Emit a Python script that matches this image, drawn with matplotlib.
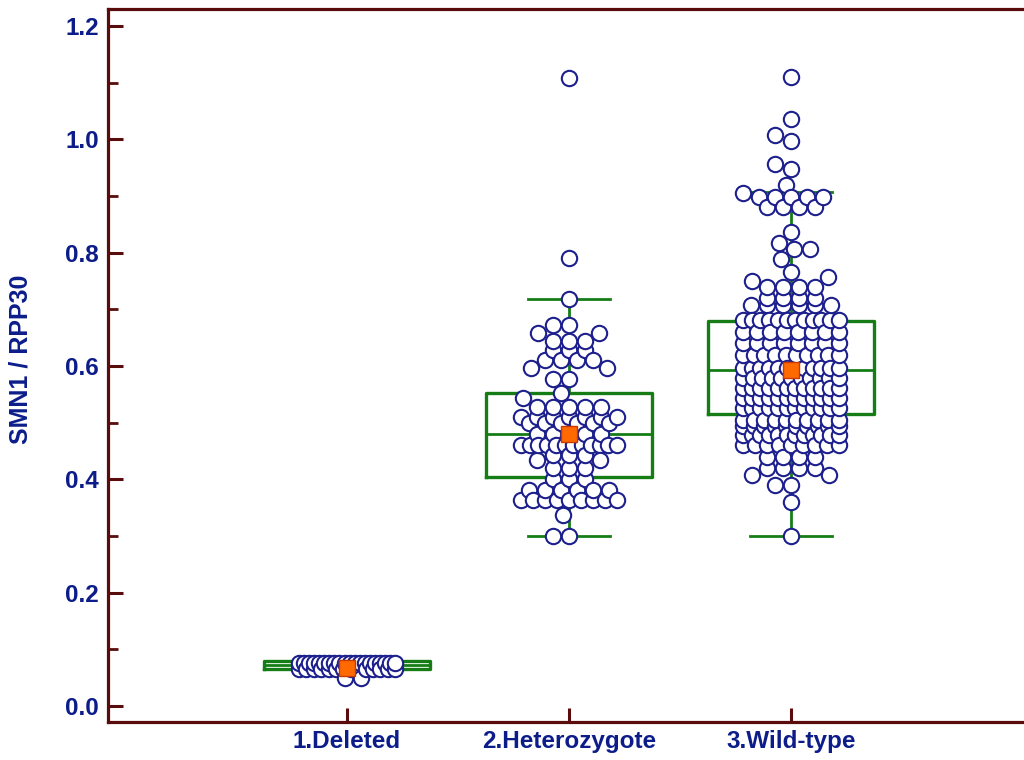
import numpy as np
import matplotlib.pyplot as plt
from matplotlib.ticker import MultipleLocator, FormatStrFormatter

plt.rcParams['font.family'] = ['Liberation Sans', 'DejaVu Sans']

# groups and x positions
groups = ['1.Deleted', '2.Heterozygote', '3.Wild-type']
positions = [1, 2, 3]

del_vals = [0.050, 0.066, 0.076]
del_counts = [2, 14, 20]

het_vals = [0.300, 0.337, 0.363, 0.382, 0.400, 0.420, 0.434, 0.443, 0.460,
            0.480, 0.500, 0.510, 0.528, 0.543, 0.552, 0.578, 0.596, 0.610,
            0.628, 0.645, 0.658, 0.672, 0.718, 0.790, 1.108]
het_counts = [2, 1, 9, 6, 3, 3, 2, 3, 12,
              5, 6, 7, 5, 1, 1, 2, 2, 4,
              3, 3, 2, 2, 1, 1, 1]

wt_vals = [0.300, 0.360, 0.390, 0.408, 0.420, 0.440, 0.460, 0.478, 0.494,
           0.505, 0.526, 0.543, 0.561, 0.579, 0.596, 0.620, 0.640, 0.660,
           0.681, 0.708, 0.720, 0.740, 0.750, 0.757, 0.766, 0.789, 0.806,
           0.817, 0.836, 0.880, 0.898, 0.905, 0.919, 0.948, 0.956, 0.998,
           1.007, 1.036, 1.110]
wt_counts = [1, 1, 2, 2, 4, 4, 9, 12, 10,
             10, 12, 12, 12, 11, 12, 10, 8, 8,
             12, 6, 4, 4, 1, 1, 1, 1, 2,
             1, 1, 4, 5, 1, 1, 1, 1, 1,
             1, 1, 1]

# box plot summary
q1s = [0.066, 0.405, 0.515]
medians = [0.073, 0.480, 0.593]
q3s = [0.080, 0.552, 0.680]
whis_lo = [0.066, 0.300, 0.300]
whis_hi = [0.080, 0.718, 0.908]
means = [0.068, 0.480, 0.593]

navy = '#1c1f8c'
green = '#167d16'
maroon = '#5a0c0c'
label_blue = '#0c1d8a'


def dot_layout(vals, counts, ppx, ppy, d=16.0, half=48.0):
    # rows of 3+ equal values are centred and squeezed to the max width,
    # the remaining dots are slotted in where they overlap least
    xs, ys = [], []
    loose = []
    for v, c in zip(vals, counts):
        if c >= 3:
            step = min(d, 2 * half / (c - 1))
            for k in range(c):
                xs.append((k - (c - 1) / 2) * step)
                ys.append(v * ppy)
        else:
            loose += [v] * c
    grid = np.arange(-half, half + 0.25, 0.5)
    grid = grid[np.argsort(np.abs(grid), kind='stable')]
    for v in sorted(loose):
        y = v * ppy
        px, py = np.array(xs), np.array(ys)
        if len(px):
            dist = np.sqrt((grid[:, None] - px[None, :]) ** 2 + (y - py[None, :]) ** 2)
            pen = np.clip(d - dist, 0, None).sum(axis=1) + 0.15 * np.abs(grid)
            x = grid[np.argmin(pen)]
        else:
            x = 0.0
        xs.append(x)
        ys.append(y)
    xs, ys = np.array(xs) / ppx, np.array(ys) / ppy
    o = np.argsort(xs, kind='stable')
    return xs[o], ys[o]


fig = plt.figure(figsize=(10.24, 7.6), dpi=100)
ax = fig.add_axes([108 / 1024, 38 / 760, 1 - 108 / 1024, 713.5 / 760])
ax.set_xlim(-0.077, 4.05)
ax.set_ylim(-0.028, 1.231)

p0 = ax.transData.transform((0, 0))
p1 = ax.transData.transform((1, 1))
ppx, ppy = p1[0] - p0[0], p1[1] - p0[1]

# boxes
stats = []
for k in range(3):
    stats.append(dict(q1=q1s[k], med=medians[k], q3=q3s[k], whislo=whis_lo[k],
                      whishi=whis_hi[k], mean=means[k], fliers=[]))
bp = ax.bxp(stats, positions=positions, widths=0.75, capwidths=0.37,
            showmeans=True, showfliers=False,
            boxprops=dict(color=green, linewidth=2.4),
            medianprops=dict(color=green, linewidth=2.0),
            whiskerprops=dict(color=green, linewidth=2.0),
            capprops=dict(color=green, linewidth=2.0),
            meanprops=dict(marker='s', markerfacecolor='#ff6a00',
                           markeredgecolor='#c83a00', markersize=11.5,
                           markeredgewidth=1.0))
for m in bp['means']:
    m.set_zorder(6)

# dots
for pos, vals, counts in zip(positions, [del_vals, het_vals, wt_vals],
                             [del_counts, het_counts, wt_counts]):
    dx, yv = dot_layout(vals, counts, ppx, ppy)
    ax.scatter(pos + dx, yv, s=122, facecolors='white', edgecolors=navy,
               linewidths=1.5, zorder=4)

# axes styling
for side in ['left', 'bottom', 'top']:
    ax.spines[side].set_color(maroon)
    ax.spines[side].set_linewidth(2.3)
ax.spines['right'].set_visible(False)

ax.yaxis.set_major_locator(MultipleLocator(0.2))
ax.yaxis.set_minor_locator(MultipleLocator(0.1))
ax.yaxis.set_major_formatter(FormatStrFormatter('%.1f'))
ax.set_xticks(positions)
ax.set_xticklabels(groups)
ax.tick_params(axis='y', which='major', direction='in', length=11, width=2.2,
               color=maroon, pad=6.5, labelsize=17.5, labelcolor=label_blue)
ax.tick_params(axis='y', which='minor', direction='in', length=7, width=2.0,
               color=maroon)
ax.tick_params(axis='x', which='major', direction='in', length=10, width=2.2,
               color=maroon, pad=6, labelsize=17.5, labelcolor=label_blue)
for t in ax.get_xticklabels() + ax.get_yticklabels():
    t.set_fontweight('bold')

ax.set_ylabel('SMN1 / RPP30', fontsize=18, fontweight='bold', color=label_blue)
ax.yaxis.set_label_coords(-0.082, 0.509)

fig.savefig('out.png', dpi=100)
